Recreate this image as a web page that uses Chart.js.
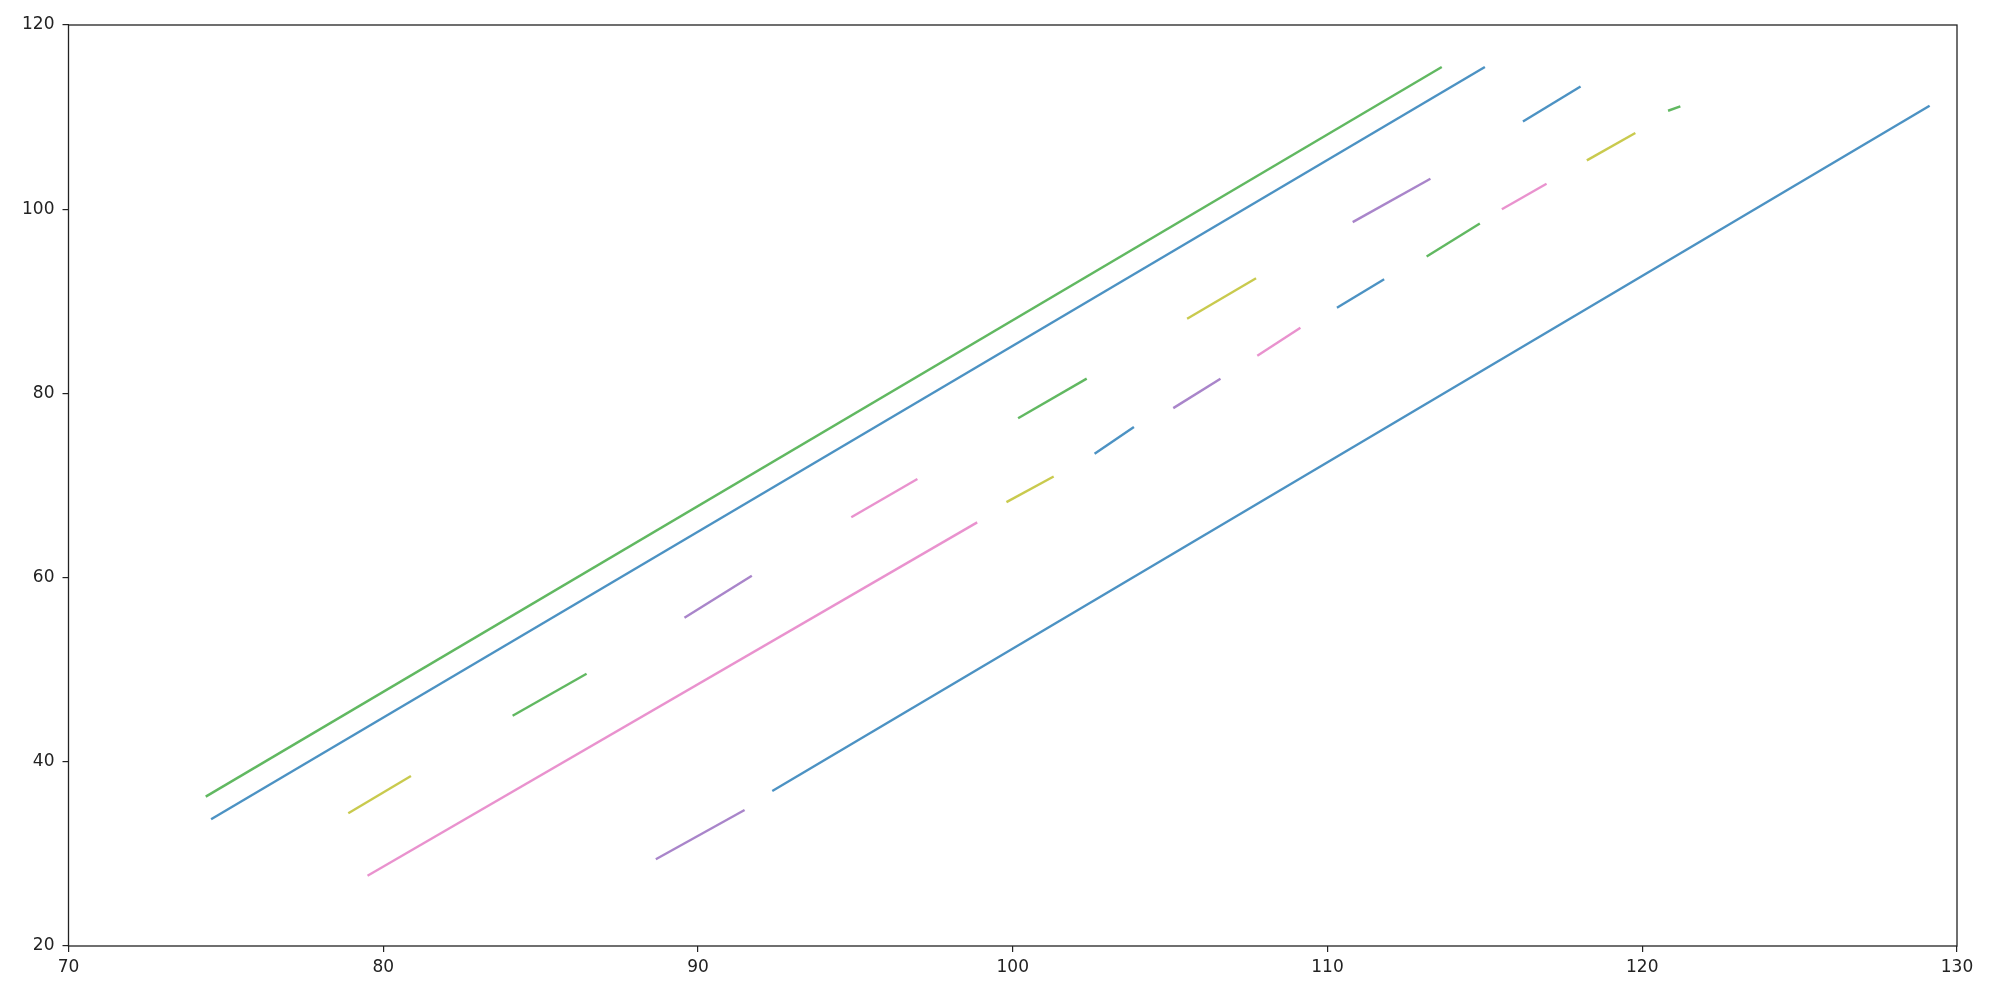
<!DOCTYPE html>
<html><head><meta charset="utf-8">
<script src="https://cdn.jsdelivr.net/npm/chart.js@4.4.0/dist/chart.umd.min.js"></script>
<style>html,body{margin:0;padding:0;background:#fff;overflow:hidden}#wrap{width:1994px;height:1000px;position:relative}</style>
</head><body><div id="wrap"><canvas id="c" width="1994" height="1000"></canvas></div>
<script>
// Segment endpoints
const xStart = [74.36, 74.53, 78.89, 84.11, 79.50, 89.57, 88.66, 92.36, 94.87, 99.80, 100.17, 102.60, 105.10, 105.54, 107.77, 110.30, 113.15, 110.80, 115.54, 116.21, 118.24, 120.82];
const yStart = [36.22, 33.76, 34.41, 45.00, 27.63, 55.64, 29.42, 36.83, 66.55, 68.20, 77.30, 73.45, 78.40, 88.10, 84.10, 89.30, 94.86, 98.60, 100.00, 109.53, 105.30, 110.69];
const xEnd   = [113.63, 115.00, 80.88, 86.46, 98.87, 91.71, 91.48, 129.13, 96.97, 101.30, 102.35, 103.85, 106.60, 107.73, 109.14, 111.80, 114.84, 113.27, 116.96, 118.04, 119.78, 121.21];
const yEnd   = [115.44, 115.44, 38.46, 49.56, 66.00, 60.20, 34.77, 111.23, 70.70, 70.97, 81.60, 76.35, 81.60, 92.50, 87.13, 92.40, 98.45, 103.30, 102.76, 113.33, 108.27, 111.16];
const segGroup = ['green','blue','olive','green','pink','purple','purple','blue','pink','olive','green','blue','purple','olive','pink','blue','green','purple','pink','blue','olive','green'];
const xTicks = [70, 80, 90, 100, 110, 120, 130];
const yTicks = [20, 40, 60, 80, 100, 120];

const palette = {
  blue: 'rgba(31,119,180,0.8)',
  green: 'rgba(44,160,44,0.75)',
  olive: 'rgba(188,189,34,0.8)',
  pink: 'rgba(227,119,194,0.8)',
  purple: 'rgba(148,103,189,0.8)'
};

const datasets = xStart.map((x0, i) => ({
  data: [{x: x0, y: yStart[i]}, {x: xEnd[i], y: yEnd[i]}],
  showLine: true,
  borderColor: palette[segGroup[i]],
  backgroundColor: palette[segGroup[i]],
  borderWidth: 2.4,
  pointRadius: 0,
  pointHoverRadius: 0,
  fill: false,
  tension: 0
}));

const frame = {
  id: 'frame',
  afterDatasetsDraw(chart) {
    const a = chart.chartArea, ctx = chart.ctx;
    ctx.save();
    ctx.strokeStyle = '#222';
    ctx.lineWidth = 1.3;
    ctx.strokeRect(a.left, a.top, a.right - a.left, a.bottom - a.top);
    ctx.restore();
  }
};

const tickFont = {family: 'DejaVu Sans', size: 17};

new Chart(document.getElementById('c'), {
  type: 'scatter',
  data: {datasets},
  options: {
    responsive: false,
    animation: false,
    devicePixelRatio: 1,
    layout: {padding: {left: 0, top: 25, right: 37, bottom: 0}},
    plugins: {legend: {display: false}, tooltip: {enabled: false}},
    events: [],
    scales: {
      x: {
        type: 'linear', min: 70, max: 130,
        afterBuildTicks: s => { s.ticks = xTicks.map(v => ({value: v})); },
        afterFit: s => { s.height = 54; },
        grid: {drawOnChartArea: false, drawTicks: true, tickLength: 6, color: '#222', lineWidth: 1.2},
        border: {display: false},
        ticks: {color: '#222', font: tickFont, padding: 5, maxRotation: 0, autoSkip: false}
      },
      y: {
        type: 'linear', min: 20, max: 120,
        afterBuildTicks: s => { s.ticks = yTicks.map(v => ({value: v})); },
        afterFit: s => { s.width = 68.5; },
        grid: {drawOnChartArea: false, drawTicks: true, tickLength: 6, color: '#222', lineWidth: 1.2},
        border: {display: false},
        ticks: {color: '#222', font: tickFont, padding: 8, autoSkip: false}
      }
    }
  },
  plugins: [frame]
});
</script>
</body></html>
